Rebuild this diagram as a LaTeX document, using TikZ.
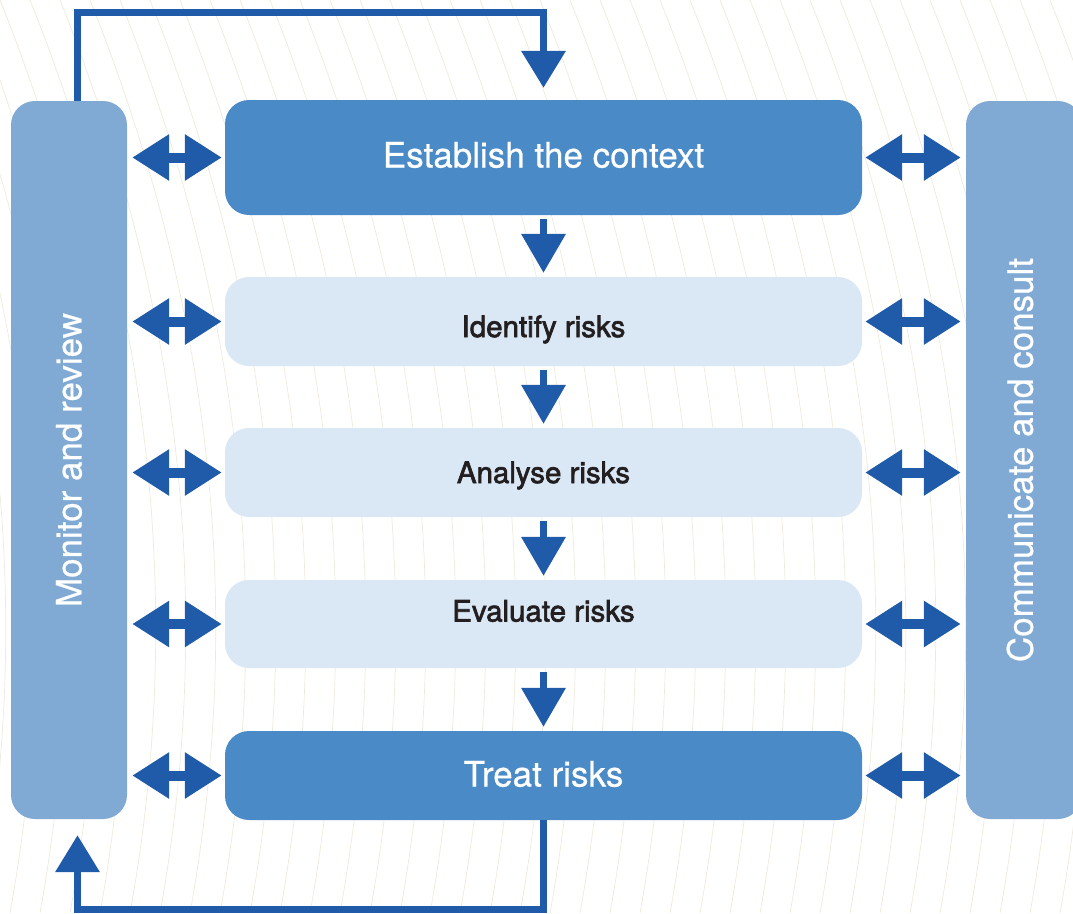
\documentclass[tikz,border=0pt]{standalone}
\usepackage{fontspec}
\setmainfont{TeX Gyre Heros}
\newfontfamily\whitefont[FakeBold=0.6]{TeX Gyre Heros}
\newfontfamily\darkfont[FakeBold=2.2]{TeX Gyre Heros}
\usetikzlibrary{arrows.meta,calc}
\definecolor{arrowblue}{HTML}{1F5BA8}
\definecolor{midblue}{HTML}{4A8AC6}
\definecolor{sideblue}{HTML}{80AAD4}
\definecolor{lightblue}{HTML}{DAE7F4}
\definecolor{darktext}{HTML}{231F20}
\definecolor{bgline}{HTML}{EEEADB}
\tikzset{
  sidebox/.style={rectangle, rounded corners=24pt, fill=sideblue, minimum width=116pt, minimum height=718pt, inner sep=0pt, text=white, font=\whitefont\fontsize{35}{41}\selectfont},
  darkbox/.style={rectangle, rounded corners=24pt, fill=midblue, minimum width=637pt, inner sep=0pt, text=white, font=\whitefont\fontsize{35}{41}\selectfont, text height=25pt, text depth=0pt},
  lightbox/.style={rectangle, rounded corners=24pt, fill=lightblue, minimum width=637pt, inner sep=0pt, text=darktext, font=\darkfont\fontsize{29.5}{35}\selectfont, text height=21pt, text depth=0pt},
  dblarrow/.style={draw=arrowblue, line width=10pt, {Triangle[length=37pt,width=44pt]}-{Triangle[length=37pt,width=44pt]}, shorten <=3pt, shorten >=5pt},
  downarrow/.style={draw=arrowblue, line width=7pt, -{Triangle[length=39pt,width=43pt]}, shorten <=4pt, shorten >=4pt},
  looparrow/.style={draw=arrowblue, line width=7pt, line join=miter, -{Triangle[length=37pt,width=43pt]}},
  bglinestyle/.style={draw=bgline, line width=0.7pt}
}
\begin{document}
\begin{tikzpicture}[x=1pt,y=-1pt]
\useasboundingbox (0,0) rectangle (1073,913);
\begin{scope}
\clip (0,0) rectangle (1073,913);
\foreach \xo in {-420,-390,...,1080} {
  \draw[bglinestyle] (\xo,0) .. controls (\xo+121.7,304.3) and (\xo+155.1,608.7) .. (\xo+100,913);
}
\end{scope}
% side boxes
\node[sidebox] (mon) at (69,460) {\rotatebox{90}{Monitor and review}};
\node[sidebox] (com) at (1024,460) {\hspace*{-8pt}\rotatebox{90}{Communicate and consult}};
% main boxes
\node[darkbox, minimum height=115pt] (est) at (543.5,157.5) {\raisebox{2.5pt}{Establish the context}};
\node[lightbox, minimum height=89pt] (idf) at (543.5,321.5) {\raisebox{-5pt}{Identify risks}};
\node[lightbox, minimum height=89pt] (ana) at (543.5,472.5) {Analyse risks};
\node[lightbox, minimum height=88pt] (eva) at (543.5,624) {\raisebox{13pt}{Evaluate risks}};
\node[darkbox, minimum height=89pt] (trt) at (543.5,775.5) {\raisebox{1.5pt}{Treat risks}};
% vertical flow arrows
\draw[downarrow] (est.south) -- (idf.north);
\draw[downarrow] (idf.south) -- (ana.north);
\draw[downarrow] (ana.south) -- (eva.north);
\draw[downarrow] (eva.south) -- (trt.north);
% double arrows
\foreach \b in {est,idf,ana,eva,trt} {
  \draw[dblarrow] (\b.west) -- (mon.east |- \b.west);
  \draw[dblarrow] (\b.east) -- (com.west |- \b.east);
}
% loops
\coordinate (tl) at (77.5,12);
\coordinate (tr) at (543.5,12);
\coordinate (bl) at (77.5,909.5);
\coordinate (br) at (543.5,909.5);
\draw[looparrow, shorten >=12pt] (mon.north -| tl) -- (tl) -- (tr) -- (tr |- est.north);
\draw[looparrow, shorten >=16pt] (trt.south) -- (br) -- (bl) -- (bl |- mon.south);
\end{tikzpicture}
\end{document}
